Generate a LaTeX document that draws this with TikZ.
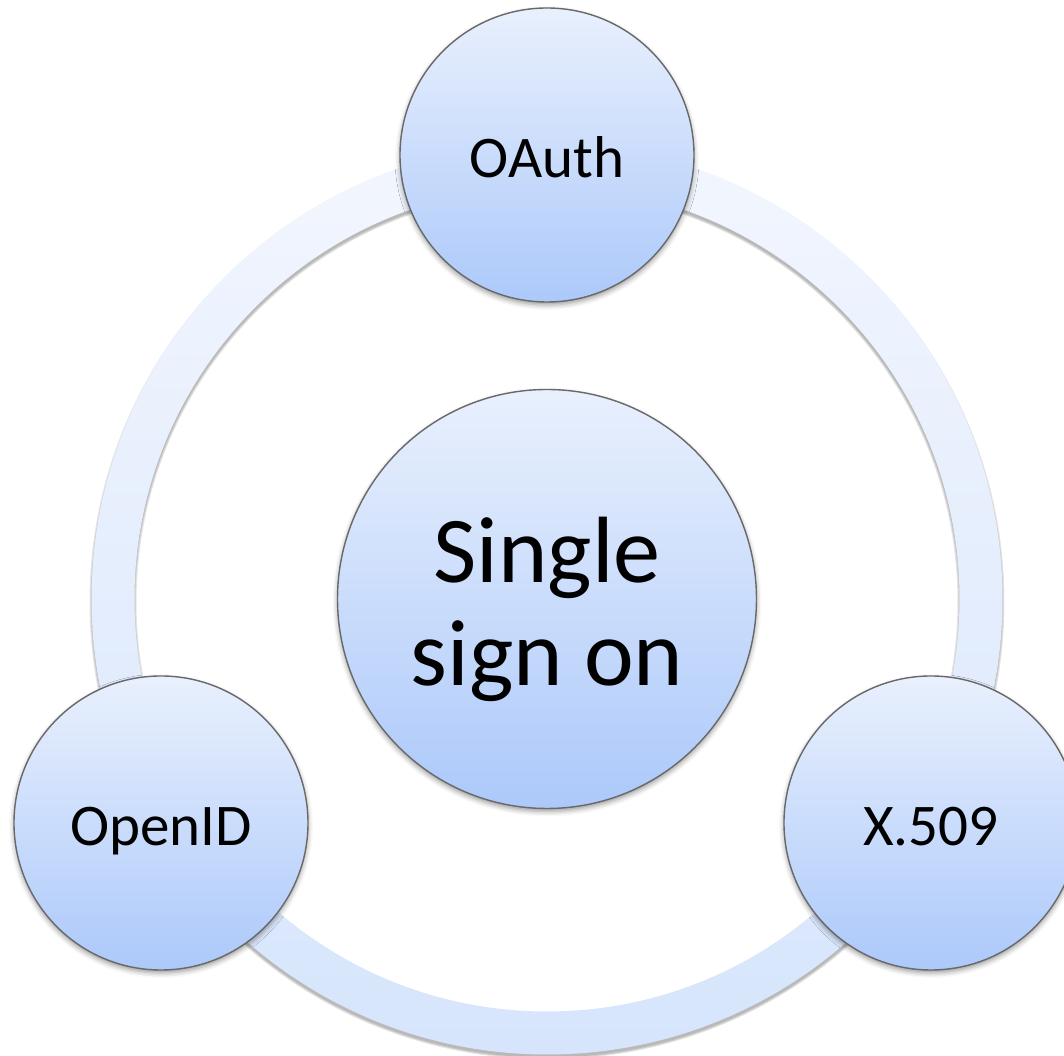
\documentclass[tikz,border=0pt]{standalone}
\usepackage{fontspec}
\setmainfont{Carlito}
\usepackage{tikz}
\usetikzlibrary{shadows.blur}
\definecolor{discTop}{RGB}{233,240,253}
\definecolor{discBot}{RGB}{172,201,250}
\definecolor{ringTop}{RGB}{242,246,254}
\definecolor{ringBot}{RGB}{214,229,252}
\definecolor{discLine}{RGB}{105,105,105}
\tikzset{soft shadow/.style={
    blur shadow={shadow xshift=0pt, shadow yshift=-0.03cm,
      shadow blur radius=0.05cm, shadow opacity=40}
}}
\tikzset{ring shadow/.style={
    fill=black, fill opacity=0.1, even odd rule
}}
\tikzset{disc/.style={
    circle, draw=discLine, line width=0.4pt,
    top color=discTop, bottom color=discBot,
    inner sep=0pt, soft shadow
}}
\tikzset{leaf/.style={
    disc, minimum size=2.94cm,
    font=\fontsize{16.8}{20}\selectfont, text height=0.45cm, text depth=0pt
}}
\tikzset{hub/.style={
    disc, minimum size=4.19cm, align=center,
    font=\fontsize{26.8}{29.3}\selectfont,
    text height=1.93cm, text depth=0.2cm
}}

\begin{document}
\begin{tikzpicture}
\useasboundingbox (0,0) rectangle (10.64,10.56);
\coordinate (C) at (5.47,4.57);
\coordinate (Cs) at (5.47,4.54);

%ring
\fill[ring shadow] (Cs) circle (4.575) (Cs) circle (4.105);
\fill[ring shadow] (Cs) circle (4.565) (Cs) circle (4.115);
\fill[ring shadow] (Cs) circle (4.555) (Cs) circle (4.125);
\shade[top color=ringTop, bottom color=ringBot, even odd rule]
  (C) circle (4.555) (C) circle (4.125);

%outer discs
\node[leaf] (oauth) at (5.47,9.01) {OAuth};
\node[leaf] (openid) at (1.61,2.33) {OpenID};
\node[leaf] (x509) at (9.31,2.33) {X.509};

%centre
\node[hub] (sso) at (C) {Single\\sign on};

\end{tikzpicture}
\end{document}
